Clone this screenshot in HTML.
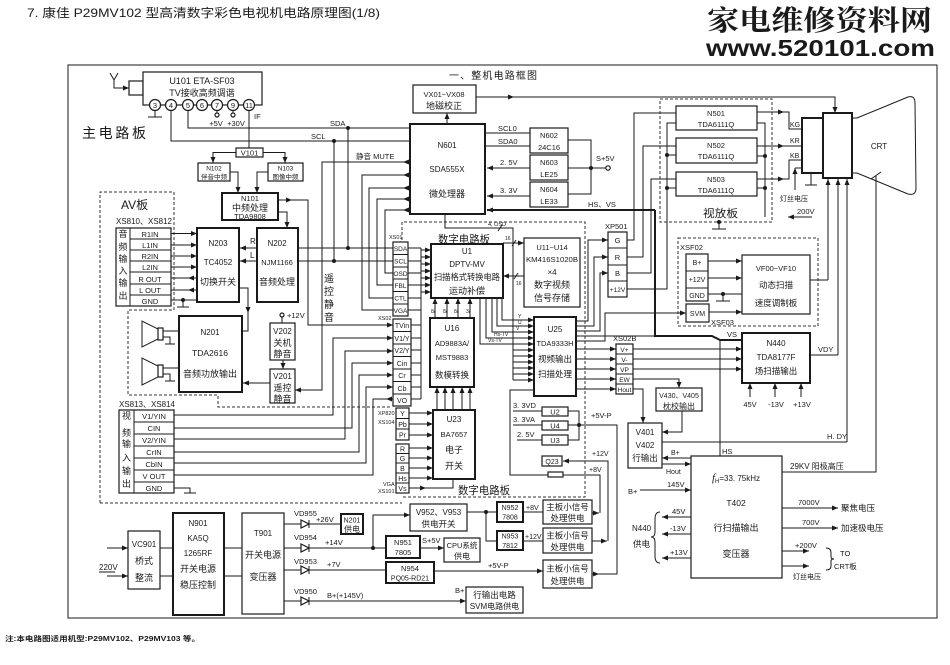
<!DOCTYPE html>
<html><head><meta charset="utf-8"><style>
html,body{margin:0;padding:0;background:#fff}
svg{display:block}
</style></head><body>
<svg xmlns="http://www.w3.org/2000/svg" width="950" height="665" viewBox="0 0 950 665" font-family="'Liberation Sans','Noto Sans CJK SC',sans-serif" font-size="8">
<defs>
<marker id="a" viewBox="0 0 6 5" refX="6" refY="2.5" markerWidth="6" markerHeight="5" orient="auto" markerUnits="userSpaceOnUse"><path d="M0,0L6,2.5L0,5z" fill="#1a1a1a"/></marker>
</defs>
<style>
.l{fill:none;stroke:#1a1a1a;stroke-width:1}
.k{fill:none;stroke:#1a1a1a;stroke-width:2}
.b{fill:#fff;stroke:#1a1a1a;stroke-width:1.2}
.t{fill:#fff;stroke:#1a1a1a;stroke-width:2}
.d{fill:none;stroke:#333;stroke-width:1;stroke-dasharray:3,2}
.g{fill:#1a1a1a}
text{fill:#1a1a1a}
.c{text-anchor:middle}
</style>
<rect width="950" height="665" fill="#fff"/>

<!-- header -->
<text x="27" y="17" font-size="12" textLength="353" lengthAdjust="spacingAndGlyphs">7. 康佳 P29MV102 型高清数字彩色电视机电路原理图(1/8)</text>
<text x="707" y="30" font-size="28" font-weight="bold" font-family="'Noto Serif CJK SC',serif" textLength="225" lengthAdjust="spacingAndGlyphs">家电维修资料网</text>
<text x="706" y="56" font-size="23" font-weight="bold" textLength="229" lengthAdjust="spacingAndGlyphs">www.520101.com</text>
<rect x="68" y="65" width="869" height="553" class="l" stroke-width="1.5"/>
<text x="5" y="641" font-size="7" font-weight="bold" textLength="195" lengthAdjust="spacingAndGlyphs">注:本电路图适用机型:P29MV102、P29MV103 等。</text>
<text x="449" y="79" font-size="10" textLength="88">一、整机电路框图</text>
<text x="82" y="138" font-size="14" textLength="64">主电路板</text>

<!-- dashed boards -->
<path class="d" d="M100,503V192H174V310H128V395H218V407H392M100,503H402"/>
<path class="d" d="M402,240V222H585V497H402"/>
<rect class="d" x="660" y="99" width="112" height="123"/>
<rect class="d" x="678" y="238" width="140" height="88"/>

<!-- tuner -->
<path class="l" d="M110,73L114,80L118,73M114,80V88H129" marker-end="url(#a)"/>
<rect class="b" x="129" y="81" width="14" height="14"/>
<rect class="b" x="143" y="72" width="119" height="33" stroke-width="1.5"/>
<text x="202" y="84" class="c" font-size="9">U101 ETA-SF03</text>
<text x="202" y="96" class="c" font-size="9">TV接收高频调谐</text>
<g class="b"><circle cx="155" cy="105" r="5.5"/><circle cx="171" cy="105" r="5.5"/><circle cx="188" cy="105" r="5.5"/><circle cx="202" cy="105" r="5.5"/><circle cx="217" cy="105" r="5.5"/><circle cx="233" cy="105" r="5.5"/><circle cx="249" cy="105" r="5.5"/></g>
<g font-size="7.5"><text x="155" y="108" class="c">3</text><text x="171" y="108" class="c">4</text><text x="188" y="108" class="c">5</text><text x="202" y="108" class="c">6</text><text x="217" y="108" class="c">7</text><text x="233" y="108" class="c">9</text><text x="249" y="108" class="c">11</text></g>
<path class="l" d="M155,110.5V117M148,117H162M217,110.5V113M233,110.5V113"/>
<circle cx="217" cy="115" r="2" class="b" stroke-width="0.8"/><circle cx="233" cy="115" r="2" class="b" stroke-width="0.8"/>
<text x="216" y="126" class="c" font-size="7.5">+5V</text><text x="236" y="126" class="c" font-size="7.5">+30V</text>
<text x="254" y="119" font-size="7.5">IF</text>
<path class="l" d="M188,110.5V128H409M171,110.5V141H409M249,110.5V148M348,128V248M334,141V261"/>
<circle class="g" cx="348" cy="128" r="2"/><circle class="g" cx="334" cy="141" r="2"/>
<text x="330" y="126" font-size="7.5">SDA</text><text x="311" y="139" font-size="7.5">SCL</text>

<!-- IF section -->
<rect class="b" x="236" y="148" width="27" height="9"/><text x="249.5" y="155.5" class="c" font-size="7.5">V101</text>
<path class="l" d="M236,152.5H213V163" marker-end="url(#a)"/>
<path class="l" d="M263,152.5H285V163" marker-end="url(#a)"/>
<rect class="b" x="198" y="163" width="32" height="18" stroke-width="1.5"/><text x="214" y="170.5" class="c" font-size="6.5">N102</text><text x="214" y="179" class="c" font-size="6.5">伴音中频</text>
<rect class="b" x="268" y="163" width="35" height="18" stroke-width="1.5"/><text x="285.5" y="170.5" class="c" font-size="6.5">N103</text><text x="285.5" y="179" class="c" font-size="6.5">图像中频</text>
<path class="l" d="M230,172H238V193" marker-end="url(#a)"/>
<path class="l" d="M268,172H257V193" marker-end="url(#a)"/>
<rect class="t" x="222" y="193" width="56" height="27"/>
<text x="250" y="201" class="c" font-size="7.5">N101</text><text x="250" y="211" class="c" font-size="9">中频处理</text><text x="250" y="219" class="c" font-size="7.5">TDA9808</text>
<path class="l" d="M278,200H292" marker-end="url(#a)"/>
<path class="l" d="M291,200H308V325H393" marker-end="url(#a)"/>
<path class="l" d="M278,212H287V228" marker-end="url(#a)"/>

<!-- AV audio connector -->
<text x="121" y="209" font-size="12">AV板</text>
<text x="116" y="224" font-size="8" textLength="56" lengthAdjust="spacingAndGlyphs">XS810、XS812</text>
<rect class="b" x="116" y="228" width="55" height="78"/>
<path class="l" d="M130,228V306M130,239H171M130,250H171M130,261H171M130,272H171M130,284H171M130,295H171"/>
<g font-size="9"><text x="123" y="237" class="c">音</text><text x="123" y="250" class="c">频</text><text x="123" y="262" class="c">输</text><text x="123" y="274" class="c">入</text><text x="123" y="286" class="c">输</text><text x="123" y="299" class="c">出</text></g>
<g font-size="7.5"><text x="150" y="237" class="c">R1IN</text><text x="150" y="248" class="c">L1IN</text><text x="150" y="259" class="c">R2IN</text><text x="150" y="270" class="c">L2IN</text><text x="150" y="282" class="c">R OUT</text><text x="150" y="293" class="c">L OUT</text><text x="150" y="304" class="c">GND</text></g>
<path class="l" d="M171,233.5H197" marker-end="url(#a)"/><path class="l" d="M171,245H197" marker-end="url(#a)"/><path class="l" d="M171,256H197" marker-end="url(#a)"/><path class="l" d="M171,267H197" marker-end="url(#a)"/>
<path class="l" d="M197,278H188" marker-end="url(#a)"/><path class="l" d="M197,290H188" marker-end="url(#a)"/><path class="l" d="M188,278H171M188,290H171M171,300H197M183,300V307M177,307H189"/>
<circle class="g" cx="183" cy="300" r="2"/>
<rect class="t" x="197" y="228" width="42" height="74"/>
<text x="218" y="246" class="c" font-size="8">N203</text><text x="218" y="265" class="c" font-size="8">TC4052</text><text x="218" y="285" class="c" font-size="9">切换开关</text>
<rect class="t" x="257" y="228" width="41" height="74"/>
<text x="277" y="246" class="c" font-size="8">N202</text><text x="277" y="265" class="c" font-size="7.5">NJM1166</text><text x="277" y="285" class="c" font-size="9">音频处理</text>
<path class="l" d="M257,248H240" marker-end="url(#a)"/><path class="l" d="M257,261H240" marker-end="url(#a)"/>
<text x="250" y="244" font-size="8">R</text><text x="250" y="258" font-size="8">L</text>
<path class="l" d="M298,248H393M298,261H393"/>
<circle class="g" cx="348" cy="248" r="2"/><circle class="g" cx="334" cy="261" r="2"/>
<path class="l" d="M239,288H248V313" marker-end="url(#a)"/><path class="l" d="M248,312V331H242"/>

<!-- N201 and speakers -->
<rect class="t" x="179" y="316" width="63" height="76"/>
<text x="210" y="335" class="c" font-size="8">N201</text><text x="210" y="356" class="c" font-size="8.5">TDA2616</text><text x="210" y="377" class="c" font-size="9">音频功放输出</text>
<path class="l" d="M142,321V347L158,339V329ZM142,358V385L158,377V366Z"/>
<rect class="b" x="158" y="328" width="5" height="12"/><rect class="b" x="158" y="365" width="5" height="12"/>
<path class="l" d="M163,331H179M163,337H170V344M165,344H175M163,368H179M163,374H170V381M165,381H175"/>

<!-- V202 / V201 -->
<circle cx="282" cy="315" r="2" class="b" stroke-width="0.8"/><text x="287" y="318" font-size="7.5">+12V</text>
<path class="l" d="M282,317V323"/>
<rect class="b" x="270" y="323" width="25" height="37"/>
<text x="282.5" y="334" class="c" font-size="8">V202</text><text x="282.5" y="346" class="c" font-size="9">关机</text><text x="282.5" y="357" class="c" font-size="9">静音</text>
<path class="l" d="M283,360V369" marker-end="url(#a)"/>
<rect class="b" x="270" y="369" width="25" height="34"/>
<text x="282.5" y="379" class="c" font-size="8">V201</text><text x="282.5" y="391" class="c" font-size="9">遥控</text><text x="282.5" y="402" class="c" font-size="9">静音</text>
<path class="l" d="M270,383H243" marker-end="url(#a)"/>
<g font-size="10"><text x="329" y="282" class="c">遥</text><text x="329" y="295" class="c">控</text><text x="329" y="308" class="c">静</text><text x="329" y="321" class="c">音</text></g>

<!-- N601 -->
<rect class="t" x="410" y="124" width="75" height="90"/>
<text x="447" y="148" class="c" font-size="8">N601</text><text x="447" y="172" class="c" font-size="8">SDA555X</text><text x="447" y="197" class="c" font-size="9">微处理器</text>
<rect class="b" x="413" y="85" width="63" height="28"/>
<text x="444" y="97" class="c" font-size="7.5">VX01~VX08</text><text x="444" y="109" class="c" font-size="9">地磁校正</text>
<path class="l" d="M447,124V113" marker-end="url(#a)"/>
<path class="l" d="M476,97H514" marker-end="url(#a)"/>
<path class="l" d="M512,97H835V113" marker-end="url(#a)"/>
<text x="356" y="159" font-size="7.5">静音 MUTE</text>
<path class="l" d="M409,162H403" marker-end="url(#a)"/><path class="l" d="M403,162H322V390H295" marker-end="url(#a)"/>
<path class="l" d="M409,175H403" marker-end="url(#a)"/><path class="l" d="M403,175H362V310H393"/>
<path class="l" d="M409,188H403" marker-end="url(#a)"/><path class="l" d="M403,188H369V298H393"/>
<path class="l" d="M409,199H403" marker-end="url(#a)"/><path class="l" d="M403,199H377V285H393"/>
<path class="l" d="M409,210H403" marker-end="url(#a)"/><path class="l" d="M403,210H385V273H393"/>
<path class="l" d="M485,133H530M485,146H530"/>
<text x="498" y="131" font-size="7.5">SCL0</text><text x="498" y="144" font-size="7.5">SDA0</text>
<rect class="b" x="530" y="128" width="38" height="25" stroke-width="1.8"/><text x="549" y="138" class="c" font-size="7.5">N602</text><text x="549" y="150" class="c" font-size="7.5">24C16</text>
<rect class="b" x="530" y="155" width="38" height="25" stroke-width="1.8"/><text x="549" y="165" class="c" font-size="7.5">N603</text><text x="549" y="177" class="c" font-size="7.5">LE25</text>
<rect class="b" x="530" y="182" width="38" height="25" stroke-width="1.8"/><text x="549" y="192" class="c" font-size="7.5">N604</text><text x="549" y="204" class="c" font-size="7.5">LE33</text>
<path class="l" d="M530,168H487" marker-end="url(#a)"/><path class="l" d="M530,196H487" marker-end="url(#a)"/>
<text x="500" y="165" font-size="7.5">2. 5V</text><text x="500" y="193" font-size="7.5">3. 3V</text>
<path class="l" d="M568,140H591V194H568M568,168H606"/>
<circle class="g" cx="591" cy="168" r="2"/><circle cx="608" cy="168" r="2.2" class="b" stroke-width="0.8"/>
<text x="596" y="161" font-size="7.5">S+5V</text>
<path class="k" d="M655,210H487" marker-end="url(#a)"/>
<path class="k" d="M655,210V336H712L720,340H742"/>
<text x="588" y="207" font-size="7.5">HS、VS</text>
<text x="727" y="337" font-size="7.5">VS</text>
<path class="l" d="M720,340V456"/>
<text x="722" y="454" font-size="7.5">HS</text>

<!-- digital board -->
<text x="438" y="243" font-size="11" textLength="52" lengthAdjust="spacingAndGlyphs">数字电路板</text>
<text x="458" y="494" font-size="11" textLength="52" lengthAdjust="spacingAndGlyphs">数字电路板</text>
<text x="488" y="226" font-size="5.5">4, OSD</text>
<path class="l" d="M445,214V228H513V380M498,231L502,225"/>
<text x="389" y="239" font-size="5.5">XS01</text>
<rect class="b" x="393" y="242" width="15" height="74"/>
<path class="l" d="M393,254.5H408M393,267H408M393,279H408M393,291.5H408M393,304H408"/>
<g font-size="6.5"><text x="400.5" y="251" class="c">SDA</text><text x="400.5" y="263.5" class="c">SCL</text><text x="400.5" y="276" class="c">OSD</text><text x="400.5" y="288" class="c">FBL</text><text x="400.5" y="300.5" class="c">CTL</text><text x="400.5" y="313" class="c">VGA</text></g>
<text x="378" y="320" font-size="5.5">XS02</text>
<rect class="b" x="393" y="319" width="18" height="87"/>
<path class="l" d="M393,331.5H411M393,344H411M393,356.5H411M393,369H411M393,381.5H411M393,394H411"/>
<g font-size="7"><text x="402" y="328" class="c">TVin</text><text x="402" y="341" class="c">V1/Y</text><text x="402" y="353" class="c">V2/Y</text><text x="402" y="366" class="c">Cin</text><text x="402" y="378" class="c">Cr</text><text x="402" y="391" class="c">Cb</text><text x="402" y="403" class="c">VO</text></g>
<path class="l" d="M408,248H421M408,261H421M408,273H421M408,285H421M408,298H421M408,310H421M411,325H421M411,338H421M411,350H421M411,363H421M411,375H421M411,387H421M411,399H421M421,248V399"/>
<path class="l" d="M421,250H431" marker-end="url(#a)"/><path class="l" d="M421,257H431" marker-end="url(#a)"/><path class="l" d="M421,264H431" marker-end="url(#a)"/><path class="l" d="M421,271H431" marker-end="url(#a)"/><path class="l" d="M421,278H431" marker-end="url(#a)"/><path class="l" d="M421,285H431" marker-end="url(#a)"/><path class="l" d="M421,292H431" marker-end="url(#a)"/>
<rect class="t" x="431" y="244" width="72" height="54"/>
<text x="467" y="254" class="c" font-size="8">U1</text><text x="467" y="267" class="c" font-size="8">DPTV-MV</text><text x="467" y="280" class="c" font-size="8.5" textLength="66" lengthAdjust="spacingAndGlyphs">扫描格式转换电路</text><text x="467" y="294" class="c" font-size="9">运动补偿</text>
<rect class="b" x="524" y="238" width="56" height="69" stroke-width="1.5"/>
<text x="552" y="250" class="c" font-size="7.5">U11~U14</text><text x="552" y="262" class="c" font-size="7.5" textLength="52" lengthAdjust="spacingAndGlyphs">KM416S1020B</text><text x="552" y="275" class="c" font-size="8">×4</text><text x="552" y="288" class="c" font-size="9">数字视频</text><text x="552" y="301" class="c" font-size="9">信号存储</text>
<path class="l" d="M503,243H524" marker-end="url(#a)"/><path class="l" d="M524,276H503" marker-end="url(#a)"/>
<path class="l" d="M512,246L516,240M514,279L518,273"/>
<text x="505" y="240" font-size="5">16</text><text x="516" y="285" font-size="5">16</text>
<rect class="t" x="430" y="318" width="44" height="69"/>
<text x="452" y="331" class="c" font-size="8">U16</text><text x="452" y="346" class="c" font-size="7.5">AD9883A/</text><text x="452" y="360" class="c" font-size="7.5">MST9883</text><text x="452" y="378" class="c" font-size="8.5">数模转换</text>
<path class="l" d="M435,318V298" marker-end="url(#a)"/><path class="l" d="M447,318V298" marker-end="url(#a)"/><path class="l" d="M458,318V298" marker-end="url(#a)"/><path class="l" d="M470,318V298" marker-end="url(#a)"/>
<g font-size="5"><text x="431" y="313">8/</text><text x="443" y="313">8/</text><text x="454" y="313">8/</text><text x="466" y="313">3/</text></g>
<rect class="t" x="433" y="410" width="42" height="69"/>
<text x="454" y="422" class="c" font-size="8">U23</text><text x="454" y="437" class="c" font-size="7.5">BA7657</text><text x="454" y="453" class="c" font-size="9">电子</text><text x="454" y="469" class="c" font-size="9">开关</text>
<path class="l" d="M437,410V387" marker-end="url(#a)"/><path class="l" d="M445,410V387" marker-end="url(#a)"/><path class="l" d="M453,410V387" marker-end="url(#a)"/><path class="l" d="M462,410V387" marker-end="url(#a)"/><path class="l" d="M470,410V387" marker-end="url(#a)"/>
<text x="378" y="415" font-size="5.5">XP820</text><text x="378" y="424" font-size="5.5">XS104</text>
<rect class="b" x="396" y="408" width="13" height="32"/><path class="l" d="M396,418.5H409M396,429H409"/>
<g font-size="7"><text x="402.5" y="416" class="c">Y</text><text x="402.5" y="427" class="c">Pb</text><text x="402.5" y="437.5" class="c">Pr</text></g>
<path class="l" d="M409,413H433" marker-end="url(#a)"/><path class="l" d="M409,424H433" marker-end="url(#a)"/><path class="l" d="M409,435H433" marker-end="url(#a)"/>
<rect class="b" x="396" y="444" width="13" height="49"/><path class="l" d="M396,453.5H409M396,463H409M396,473H409M396,483H409"/>
<g font-size="7"><text x="402.5" y="451.5" class="c">R</text><text x="402.5" y="461" class="c">G</text><text x="402.5" y="471" class="c">B</text><text x="402.5" y="481" class="c">Hs</text><text x="402.5" y="491" class="c">Vs</text></g>
<path class="l" d="M409,448H433" marker-end="url(#a)"/><path class="l" d="M409,458H433" marker-end="url(#a)"/><path class="l" d="M409,468H433" marker-end="url(#a)"/><path class="l" d="M409,478H433" marker-end="url(#a)"/><path class="l" d="M409,488H426" marker-end="url(#a)"/><path class="l" d="M425,488H453V479"/>
<text x="383" y="486" font-size="5.5">VGA</text><text x="378" y="493" font-size="5.5">XS101</text>
<rect class="t" x="534" y="317" width="42" height="79"/>
<text x="555" y="332" class="c" font-size="8">U25</text><text x="555" y="346" class="c" font-size="7.5">TDA9333H</text><text x="555" y="362" class="c" font-size="8.5">视频输出</text><text x="555" y="377" class="c" font-size="8.5">扫描处理</text>
<path class="l" d="M502,298V320H534" marker-end="url(#a)"/><path class="l" d="M497,298V326H534" marker-end="url(#a)"/><path class="l" d="M492,298V332H534" marker-end="url(#a)"/><path class="l" d="M486,298V338H534" marker-end="url(#a)"/><path class="l" d="M480,298V344H534" marker-end="url(#a)"/>
<g font-size="5"><text x="518" y="318">Y</text><text x="518" y="324">U</text><text x="516" y="330">V</text><text x="494" y="336">Hs-TV</text><text x="488" y="342">Vs-TV</text></g>
<path class="l" d="M513,350H534" marker-end="url(#a)"/><path class="l" d="M513,356H534" marker-end="url(#a)"/><path class="l" d="M513,362H534" marker-end="url(#a)"/><path class="l" d="M513,368H534" marker-end="url(#a)"/><path class="l" d="M513,374H534" marker-end="url(#a)"/><path class="l" d="M513,380H534" marker-end="url(#a)"/>
<path class="l" d="M534,390H510V475H600V513M565,461H608V541"/>
<path class="l" d="M576,321H588V240H608" marker-end="url(#a)"/><path class="l" d="M576,326H594V257H608" marker-end="url(#a)"/><path class="l" d="M576,331H600V273H608" marker-end="url(#a)"/>
<path class="l" d="M576,336H655"/>
<path class="l" d="M576,341H605V313H686" marker-end="url(#a)"/>
<path class="l" d="M576,349H616" marker-end="url(#a)"/><path class="l" d="M576,359H616" marker-end="url(#a)"/><path class="l" d="M576,369H616" marker-end="url(#a)"/><path class="l" d="M576,379H616" marker-end="url(#a)"/><path class="l" d="M576,389H616" marker-end="url(#a)"/>

<!-- regulators digital -->
<rect class="b" x="542" y="407" width="26" height="9" stroke-width="2"/><text x="555" y="414.5" class="c" font-size="7.5">U2</text>
<rect class="b" x="542" y="421" width="26" height="9" stroke-width="2"/><text x="555" y="428.5" class="c" font-size="7.5">U4</text>
<rect class="b" x="542" y="435" width="26" height="10" stroke-width="2"/><text x="555" y="443" class="c" font-size="7.5">U3</text>
<path class="l" d="M513,411H542M513,425H542M517,440H542M568,411H579V440H568M568,425H579"/>
<circle class="g" cx="579" cy="425" r="2"/>
<text x="513" y="408" font-size="7.5">3. 3VD</text><text x="513" y="422" font-size="7.5">3. 3VA</text><text x="517" y="437" font-size="7.5">2. 5V</text>
<text x="591" y="418" font-size="7.5">+5V-P</text>
<rect class="b" x="542" y="456" width="20" height="10"/><text x="552" y="464" class="c" font-size="7">Q23</text>
<path class="l" d="M596,461H563" marker-end="url(#a)"/>
<text x="592" y="456" font-size="7">+12V</text>
<rect class="b" x="548" y="472" width="15" height="5"/>
<text x="589" y="472" font-size="7">+8V</text>

<!-- video board -->
<text x="703" y="217" font-size="11" textLength="35" lengthAdjust="spacingAndGlyphs">视放板</text>
<rect class="b" x="676" y="106" width="81" height="24" stroke-width="1.5"/><text x="716" y="116" class="c" font-size="7.5">N501</text><text x="716" y="127" class="c" font-size="7.5">TDA6111Q</text>
<rect class="b" x="676" y="138" width="81" height="25" stroke-width="1.5"/><text x="716" y="148" class="c" font-size="7.5">N502</text><text x="716" y="159" class="c" font-size="7.5">TDA6111Q</text>
<rect class="b" x="676" y="172" width="81" height="24" stroke-width="1.5"/><text x="716" y="182" class="c" font-size="7.5">N503</text><text x="716" y="193" class="c" font-size="7.5">TDA6111Q</text>
<path class="l" d="M757,112H784" marker-end="url(#a)"/><path class="l" d="M784,112H789V129H802"/>
<path class="l" d="M757,146H784" marker-end="url(#a)"/><path class="l" d="M784,146H802"/>
<path class="l" d="M757,179H784" marker-end="url(#a)"/><path class="l" d="M784,179H789V160H802"/>
<text x="790" y="127" font-size="7">KG</text><text x="790" y="143" font-size="7">KR</text><text x="790" y="158" font-size="7">KB</text>
<path class="l" d="M757,123H765V217M757,156H765M757,188H765M812,217H788"/>
<path class="l" d="M794,217H788" marker-end="url(#a)"/>
<circle class="g" cx="765" cy="156" r="2"/><circle class="g" cx="765" cy="188" r="2"/>
<text x="797" y="214" font-size="7.5">200V</text>
<path class="l" d="M627,240H634V113H676M627,257H643V146H676M627,273H651V179H676M627,289H667V123H676M667,155H676M667,188H676"/>
<circle class="g" cx="667" cy="155" r="2"/><circle class="g" cx="667" cy="188" r="2"/>
<circle class="g" cx="719" cy="222" r="2"/><path class="l" d="M719,222V229M712,229H726"/>

<!-- CRT -->
<rect class="t" x="802" y="118" width="21" height="55"/>
<rect class="t" x="823" y="113" width="29" height="65"/>
<path class="l" stroke-width="1.3" d="M852,118H857L908,97Q915,95 915,103L916,188Q916,196 908,194L857,173H852"/>
<text x="879" y="149" class="c" font-size="8">CRT</text>
<path class="l" d="M871,179L881,172M876,176V472H782"/>
<path class="l" d="M795,190V168" marker-end="url(#a)"/><path class="l" d="M795,168H802"/>
<text x="780" y="201" font-size="7">灯丝电压</text>
<path class="l" d="M811,173V185M805,185H817"/>
<path class="l" d="M828,280V179" marker-end="url(#a)"/><path class="l" d="M838,355V179" marker-end="url(#a)"/><path class="l" d="M847,442V179" marker-end="url(#a)"/>
<path class="l" d="M810,280H828M810,355H838M662,442H847"/>
<text x="818" y="352" font-size="7.5">VDY</text><text x="827" y="439" font-size="7.5">H. DY</text>

<!-- XP501 -->
<text x="605" y="229" font-size="7.5">XP501</text>
<rect class="b" x="608" y="232" width="19" height="65"/><path class="l" d="M608,248H627M608,265H627M608,281H627"/>
<g font-size="7.5"><text x="617.5" y="243" class="c">G</text><text x="617.5" y="260" class="c">R</text><text x="617.5" y="276" class="c">B</text><text x="617.5" y="292" class="c" font-size="6.5">+12V</text></g>

<!-- XSF02 -->
<text x="680" y="250" font-size="7.5">XSF02</text>
<rect class="b" x="686" y="254" width="22" height="47"/><path class="l" d="M686,271H708M686,288H708"/>
<g font-size="7"><text x="697" y="265" class="c">B+</text><text x="697" y="282" class="c">+12V</text><text x="697" y="298" class="c">GND</text></g>
<rect class="b" x="686" y="304" width="23" height="18"/><text x="697.5" y="316" class="c" font-size="7">SVM</text>
<text x="711" y="325" font-size="7.5">XSF03</text>
<rect class="b" x="742" y="255" width="68" height="59" stroke-width="1.5"/>
<text x="776" y="271" class="c" font-size="7.5">VF00~VF10</text><text x="776" y="288" class="c" font-size="8.5">动态扫描</text><text x="776" y="306" class="c" font-size="8.5">速度调制板</text>
<path class="l" d="M708,261H742" marker-end="url(#a)"/><path class="l" d="M708,278H742" marker-end="url(#a)"/><path class="l" d="M709,312H742" marker-end="url(#a)"/>
<path class="l" d="M708,294H742M723,294V301M716,301H730"/><circle class="g" cx="723" cy="294" r="2"/>

<!-- N440 -->
<rect class="t" x="742" y="333" width="68" height="50"/>
<text x="776" y="346" class="c" font-size="8">N440</text><text x="776" y="360" class="c" font-size="8">TDA8177F</text><text x="776" y="374" class="c" font-size="8.5">场扫描输出</text>
<path class="l" d="M750,397V383" marker-end="url(#a)"/><path class="l" d="M775,397V383" marker-end="url(#a)"/><path class="l" d="M801,397V383" marker-end="url(#a)"/>
<text x="750" y="407" class="c" font-size="7.5">45V</text><text x="776" y="407" class="c" font-size="7.5">-13V</text><text x="802" y="407" class="c" font-size="7.5">+13V</text>

<!-- XS02B -->
<text x="613" y="341" font-size="7.5">XS02B</text>
<rect class="b" x="616" y="344" width="17" height="50"/><path class="l" d="M616,354H633M616,364H633M616,374H633M616,384H633"/>
<g font-size="6.5"><text x="624.5" y="352" class="c">V+</text><text x="624.5" y="362" class="c">V-</text><text x="624.5" y="372" class="c">VP</text><text x="624.5" y="382" class="c">EW</text><text x="624.5" y="392" class="c">Hout</text></g>
<path class="l" d="M633,349H742" marker-end="url(#a)"/><path class="l" d="M633,359H742" marker-end="url(#a)"/><path class="l" d="M633,369H742" marker-end="url(#a)"/>
<path class="l" d="M633,379H679V388" marker-end="url(#a)"/>
<path class="l" d="M633,389H643V423" marker-end="url(#a)"/>
<rect class="b" x="656" y="388" width="46" height="23"/>
<text x="679" y="398" class="c" font-size="7">V430、V405</text><text x="679" y="409" class="c" font-size="8">枕校输出</text>
<path class="l" d="M682,411V432H662" marker-end="url(#a)"/>
<rect class="b" x="628" y="423" width="34" height="45"/>
<text x="645" y="435" class="c" font-size="8">V401</text><text x="645" y="448" class="c" font-size="8">V402</text><text x="645" y="461" class="c" font-size="8.5">行输出</text>
<path class="l" d="M691,458H662" marker-end="url(#a)"/><path class="l" d="M662,464H691" marker-end="url(#a)"/>
<text x="671" y="455" font-size="7">B+</text><text x="666" y="474" font-size="7">Hout</text>

<!-- T402 -->
<rect class="b" x="691" y="456" width="91" height="122"/>
<text x="736" y="481" class="c" font-size="8"><tspan font-style="italic" font-size="11" font-family="'Liberation Serif',serif">f</tspan><tspan font-size="6" dy="2">H</tspan><tspan dy="-2">=33. 75kHz</tspan></text>
<text x="736" y="506" class="c" font-size="8.5">T402</text><text x="736" y="531" class="c" font-size="9">行扫描输出</text><text x="736" y="557" class="c" font-size="9">变压器</text>
<text x="790" y="469" font-size="8">29KV 阳极高压</text>
<text x="628" y="494" font-size="7.5">B+</text><text x="667" y="487" font-size="7.5">145V</text>
<path class="l" d="M640,490H691" marker-end="url(#a)"/>
<text x="632" y="531" font-size="8">N440</text><text x="633" y="547" font-size="8.5">供电</text>
<path class="l" d="M660,512Q655,512 655,519V532Q655,537 651,537Q655,537 655,542V556Q655,563 660,563"/>
<path class="l" d="M691,517H662" marker-end="url(#a)"/><path class="l" d="M691,534H662" marker-end="url(#a)"/><path class="l" d="M691,558H662" marker-end="url(#a)"/>
<text x="672" y="514" font-size="7.5">45V</text><text x="670" y="531" font-size="7.5">-13V</text><text x="670" y="555" font-size="7.5">+13V</text>
<path class="l" d="M782,508H838" marker-end="url(#a)"/><path class="l" d="M782,528H838" marker-end="url(#a)"/><path class="l" d="M782,551H809" marker-end="url(#a)"/><path class="l" d="M782,566H809" marker-end="url(#a)"/>
<text x="798" y="505" font-size="7.5">7000V</text><text x="841" y="511" font-size="8.5">聚焦电压</text>
<text x="802" y="525" font-size="7.5">700V</text><text x="841" y="531" font-size="8.5">加速极电压</text>
<text x="795" y="548" font-size="7.5">+200V</text><text x="793" y="579" font-size="7">灯丝电压</text>
<path class="l" d="M826,548Q831,548 831,553V557Q831,559 834,559Q831,559 831,561V566Q831,570 826,570"/>
<text x="840" y="556" font-size="7.5">TO</text><text x="834" y="569" font-size="7.5">CRT板</text>

<!-- AV video connector -->
<text x="119" y="407" font-size="8" textLength="56" lengthAdjust="spacingAndGlyphs">XS813、XS814</text>
<rect class="b" x="119" y="410" width="55" height="83"/>
<path class="l" d="M134,410V493M134,422H174M134,434H174M134,446H174M134,458H174M134,470H174M134,482H174"/>
<g font-size="9"><text x="126.5" y="419" class="c">视</text><text x="126.5" y="436" class="c">频</text><text x="126.5" y="447" class="c">输</text><text x="126.5" y="461" class="c">入</text><text x="126.5" y="474" class="c">输</text><text x="126.5" y="487" class="c">出</text></g>
<g font-size="7.5"><text x="154" y="419" class="c">V1/YIN</text><text x="154" y="431" class="c">CIN</text><text x="154" y="443" class="c">V2/YIN</text><text x="154" y="455" class="c">CrIN</text><text x="154" y="467" class="c">CbIN</text><text x="154" y="479" class="c">V OUT</text><text x="154" y="491" class="c">GND</text></g>
<path class="l" d="M174,415H333V338H393" marker-end="url(#a)"/>
<path class="l" d="M174,439H345V351H393" marker-end="url(#a)"/>
<path class="l" d="M174,428H352V363H393" marker-end="url(#a)"/>
<path class="l" d="M174,452H359V375H393" marker-end="url(#a)"/>
<path class="l" d="M174,463H366V387H393" marker-end="url(#a)"/>
<path class="l" d="M393,399H386" marker-end="url(#a)"/><path class="l" d="M386,399H373V475H174"/>
<path class="l" d="M174,488H190V493M184,493H196"/>

<!-- power section -->
<rect class="b" x="128" y="531" width="32" height="58"/>
<text x="144" y="547" class="c" font-size="8">VC901</text><text x="144" y="564" class="c" font-size="9">桥式</text><text x="144" y="581" class="c" font-size="9">整流</text>
<path class="l" d="M107,548H128" marker-end="url(#a)"/><path class="l" d="M107,576H128" marker-end="url(#a)"/>
<text x="99" y="570" font-size="8">220V</text><path class="l" d="M99,572H115M160,548H173M160,576H173M224,548H242M224,576H242"/>
<rect class="t" x="173" y="513" width="51" height="102"/>
<text x="198" y="526" class="c" font-size="8">N901</text><text x="198" y="541" class="c" font-size="8">KA5Q</text><text x="198" y="556" class="c" font-size="8">1265RF</text><text x="198" y="572" class="c" font-size="9">开关电源</text><text x="198" y="588" class="c" font-size="9">稳压控制</text>
<rect class="b" x="242" y="513" width="42" height="101"/>
<text x="263" y="536" class="c" font-size="8">T901</text><text x="263" y="558" class="c" font-size="9">开关电源</text><text x="263" y="580" class="c" font-size="9">变压器</text>
<path class="l" d="M284,524H341M284,548H386M284,570H386"/>
<path class="l" d="M284,601H466" marker-end="url(#a)"/>
<g class="b" stroke-width="1"><polygon points="301,520 309,524 301,528"/><polygon points="301,544 309,548 301,552"/><polygon points="301,566 309,570 301,574"/><polygon points="301,597 309,601 301,605"/></g>
<path class="l" d="M309,520V528M309,544V552M309,566V574M309,597V605"/>
<g font-size="7.5"><text x="294" y="516">VD955</text><text x="316" y="522">+26V</text><text x="294" y="540">VD954</text><text x="325" y="545">+14V</text><text x="294" y="564">VD953</text><text x="327" y="567">+7V</text><text x="294" y="594">VD950</text><text x="327" y="598">B+(+145V)</text><text x="455" y="593">B+</text></g>
<rect class="t" x="341" y="514" width="22" height="20"/><text x="352" y="522.5" class="c" font-size="7">N201</text><text x="352" y="532" class="c" font-size="8">供电</text>
<circle class="g" cx="373" cy="548" r="2"/>
<path class="l" d="M373,548V515H410" marker-end="url(#a)"/>
<rect class="b" x="410" y="504" width="57" height="27"/><text x="438.5" y="515" class="c" font-size="8">V952、V953</text><text x="438.5" y="527" class="c" font-size="8.5">供电开关</text>
<rect class="t" x="386" y="536" width="34" height="22"/><text x="403" y="545" class="c" font-size="7.5">N951</text><text x="403" y="555" class="c" font-size="7.5">7805</text>
<text x="422" y="543" font-size="7.5">S+5V</text>
<path class="l" d="M420,548H444" marker-end="url(#a)"/>
<rect class="b" x="444" y="538" width="36" height="24"/><text x="462" y="548" class="c" font-size="7.5">CPU系统</text><text x="462" y="559" class="c" font-size="8">供电</text>
<rect class="t" x="386" y="562" width="48" height="21"/><text x="410" y="571" class="c" font-size="7.5">N954</text><text x="410" y="580.5" class="c" font-size="7">PQ05-RD21</text>
<path class="l" d="M434,571H543" marker-end="url(#a)"/><text x="488" y="568" font-size="7.5">+5V-P</text>
<rect class="b" x="466" y="587" width="57" height="26"/><text x="494.5" y="598" class="c" font-size="8.5">行输出电路</text><text x="494.5" y="609" class="c" font-size="8">SVM电路供电</text>
<path class="l" d="M467,512H497M486,512V541H497M523,512H543M523,541H543"/>
<circle class="g" cx="486" cy="512" r="2"/>
<rect class="t" x="497" y="502" width="26" height="20"/><text x="510" y="510" class="c" font-size="7">N952</text><text x="510" y="519.5" class="c" font-size="7">7808</text>
<rect class="t" x="497" y="531" width="26" height="19"/><text x="510" y="538.5" class="c" font-size="7">N953</text><text x="510" y="548" class="c" font-size="7">7812</text>
<text x="526" y="510" font-size="7">+8V</text><text x="525" y="539" font-size="7">+12V</text>
<rect class="b" x="543" y="500" width="49" height="24"/><text x="567.5" y="510" class="c" font-size="8.5">主板小信号</text><text x="567.5" y="521" class="c" font-size="8.5">处理供电</text>
<rect class="b" x="543" y="528" width="49" height="25"/><text x="567.5" y="538.5" class="c" font-size="8.5">主板小信号</text><text x="567.5" y="550" class="c" font-size="8.5">处理供电</text>
<rect class="b" x="543" y="560" width="49" height="28"/><text x="567.5" y="571.5" class="c" font-size="8.5">主板小信号</text><text x="567.5" y="584" class="c" font-size="8.5">处理供电</text>
<path class="l" d="M592,513H599" marker-end="url(#a)"/><path class="l" d="M592,541H607" marker-end="url(#a)"/><path class="l" d="M592,574H599" marker-end="url(#a)"/>
<path class="l" d="M599,574H617V425H579"/>
</svg>
</body></html>
